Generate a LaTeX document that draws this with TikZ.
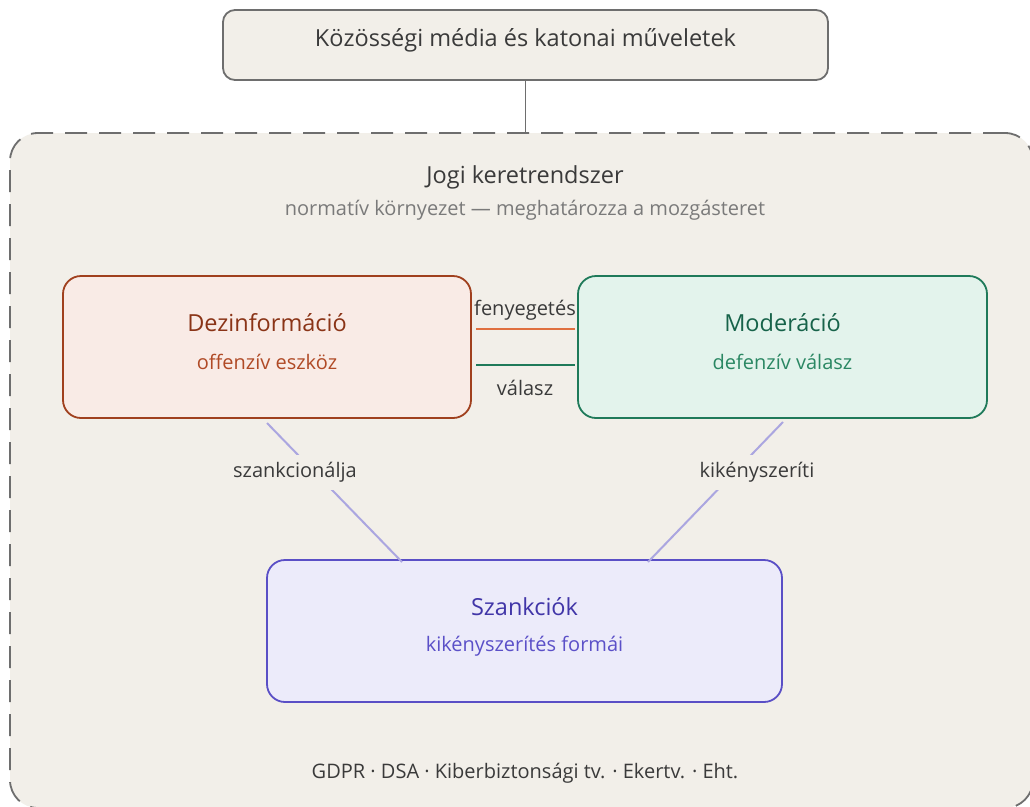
\documentclass[tikz,border=0pt]{standalone}
\usepackage{fontspec}
\setmainfont{Open Sans}
\definecolor{bgc}{HTML}{F2EFE9}
\definecolor{greyline}{HTML}{6E6E6E}
\definecolor{txt}{HTML}{3A3A3A}
\definecolor{subtxt}{HTML}{7A7A7A}
\definecolor{dezfill}{HTML}{F9EBE6}
\definecolor{dezline}{HTML}{A0401E}
\definecolor{deztitle}{HTML}{8A3417}
\definecolor{dezsub}{HTML}{B04A26}
\definecolor{modfill}{HTML}{E3F3EC}
\definecolor{modline}{HTML}{1F7A5A}
\definecolor{modtitle}{HTML}{17634A}
\definecolor{modsub}{HTML}{2A8763}
\definecolor{szfill}{HTML}{ECEBFA}
\definecolor{szline}{HTML}{5A4FC6}
\definecolor{sztitle}{HTML}{4136A8}
\definecolor{szsub}{HTML}{5B50C8}
\definecolor{fenyc}{HTML}{E07040}
\definecolor{diag}{HTML}{ABA6E0}
\tikzset{
  box/.style={rectangle, rounded corners=18pt, line width=1.8pt, inner sep=0pt},
  titletxt/.style={font=\fontsize{23.5}{28}\selectfont, inner sep=0pt},
  subtxtst/.style={font=\fontsize{20}{24}\selectfont, inner sep=0pt},
  lbl/.style={font=\fontsize{20}{24}\selectfont, text=txt, inner sep=0pt},
  diagline/.style={draw=diag, line width=2pt},
}
\begin{document}
\begin{tikzpicture}[x=1pt,y=-1pt]
\useasboundingbox (0,0) rectangle (1030,806);
\clip (0,0) rectangle (1030,806);
\fill[white] (0,0) rectangle (1030,806);
% outer frame
\node[rectangle, rounded corners=28pt, draw=greyline, fill=bgc, line width=1.8pt,
      dash pattern=on 22pt off 12pt, minimum width=1023pt, minimum height=675pt, inner sep=0pt]
      (frame) at (521.5,470.5) {};
% top box
\node[box, draw=greyline, fill=bgc, rounded corners=12pt, minimum width=605pt, minimum height=70pt]
      (top) at (525.5,45) {};
\node[titletxt, text=txt] (toptxt) at (525.5,40) {Közösségi média és katonai műveletek};
\draw[greyline, line width=1.8pt] (top.south) -- (top.south |- frame.north);
% frame titles
\node[titletxt, text=txt] (jogi) at (525,177) {Jogi keretrendszer};
\node[subtxtst, text=subtxt] (jogisub) at (525,210) {normatív környezet — meghatározza a mozgásteret};
% three boxes
\node[box, draw=dezline, fill=dezfill, minimum width=408pt, minimum height=142pt] (dez) at (267,347) {};
\node[titletxt, text=deztitle] (deztxt) at (267,323) {Dezinformáció};
\node[subtxtst, text=dezsub] (dezsubt) at (267,362) {offenzív eszköz};
\node[box, draw=modline, fill=modfill, minimum width=409pt, minimum height=142pt] (mod) at (782.5,347) {};
\node[titletxt, text=modtitle] (modtxt) at (782.5,323) {Moderáció};
\node[subtxtst, text=modsub] (modsubt) at (782.5,362) {defenzív válasz};
\node[box, draw=szline, fill=szfill, minimum width=515pt, minimum height=142pt] (sz) at (524.5,631) {};
\node[titletxt, text=sztitle] (sztxt) at (524.5,607) {Szankciók};
\node[subtxtst, text=szsub] (szsubt) at (524.5,646) {kikényszerítés formái};
% horizontal connectors
\coordinate (f1) at (476,329); \coordinate (f2) at (575,329);
\coordinate (v1) at (476,365); \coordinate (v2) at (575,365);
\draw[fenyc, line width=1.8pt] (f1) -- (f2);
\draw[modline, line width=1.8pt] (v1) -- (v2);
\node[lbl] (fenylbl) at (525,310) {fenyegetés};
\node[lbl] (valaszlbl) at (525,388) {válasz};
% diagonal connectors
\coordinate (d1) at (267,423); \coordinate (d2) at (402,562);
\coordinate (m1) at (783,422); \coordinate (m2) at (648,562);
\draw[diagline] (d1) -- (d2);
\draw[diagline] (m1) -- (m2);
\node[lbl, fill=bgc, inner xsep=3pt, minimum height=35pt] (szlbl) at (295,472) {szankcionálja};
\node[lbl, fill=bgc, inner xsep=3pt, minimum height=35pt] (kilbl) at (757,472) {kikényszeríti};
% footer
\node[lbl] (footer) at (525,773) {GDPR · DSA · Kiberbiztonsági tv. · Ekertv. · Eht.};
\end{tikzpicture}
\end{document}
